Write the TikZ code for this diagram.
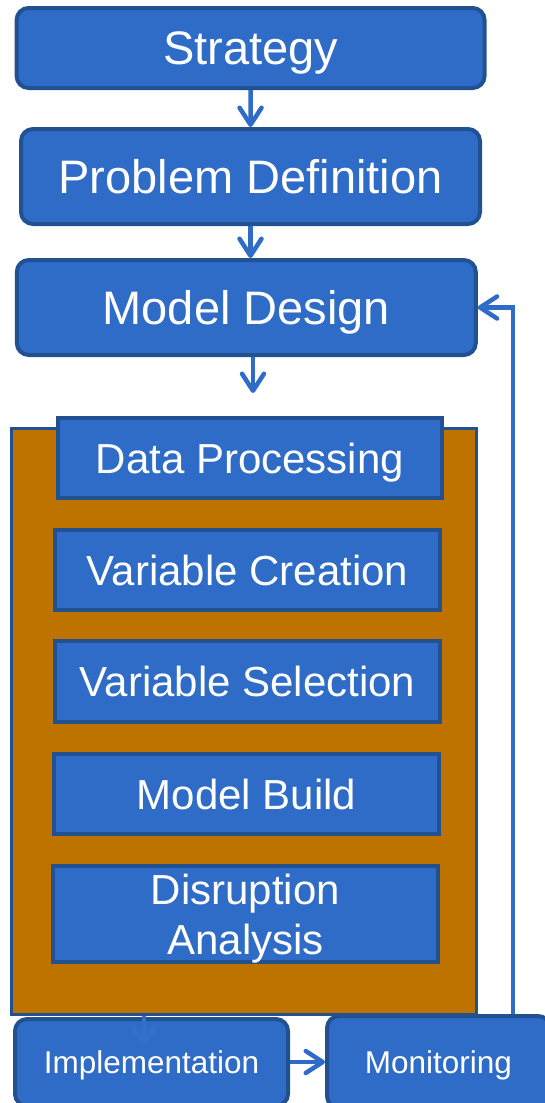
\documentclass[tikz,border=0pt]{standalone}
\usepackage{fontspec}
\setmainfont{Liberation Sans}
\usetikzlibrary{arrows.meta}
\definecolor{boxblue}{RGB}{46,108,199}
\definecolor{edgeblue}{RGB}{34,81,146}
\definecolor{ghostblue}{RGB}{51,112,203}
\definecolor{ochre}{RGB}{190,115,0}
\tikzset{
  box/.style={draw=edgeblue, fill=boxblue, line width=4pt, text=white, inner sep=0pt},
  bigbox/.style={box, rounded corners=12pt, font=\fontsize{47}{56}\selectfont, text height=33.6pt, text depth=0pt},
  stepbox/.style={box, font=\fontsize{42}{50}\selectfont, text height=30pt, text depth=0pt},
  smallbox/.style={box, rounded corners=12pt, font=\fontsize{31.5}{37}\selectfont, text height=22.5pt, text depth=0pt},
  flow/.style={draw=boxblue, line width=4.5pt, -{Straight Barb[length=17pt,width=22pt,round]}},
  ghost/.style={flow, draw=ghostblue}
}
\begin{document}
\begin{tikzpicture}[x=1pt,y=-1pt]
\path[use as bounding box] (0,0) rectangle (545,1103);
\clip (0,0) rectangle (545,1103);
\node[bigbox, minimum width=468pt, minimum height=80pt] (strat) at (250.6,48) {Strategy};
\node[bigbox, minimum width=459pt, minimum height=95pt] (probdef) at (250.5,176.5) {Problem Definition};
\node[bigbox, minimum width=459pt, minimum height=95pt] (design) at (246.3,307.5) {Model Design};
\node[draw=edgeblue, fill=ochre, line width=3pt, inner sep=0pt, minimum width=465pt, minimum height=586pt] (stack) at (243.9,721.5) {};
\node[stepbox, minimum width=384pt, minimum height=80pt] (data) at (249.8,458) {Data Processing};
\node[stepbox, minimum width=385pt, minimum height=80pt] (varcreate) at (247.5,570) {Variable Creation};
\node[stepbox, minimum width=385pt, minimum height=81pt] (varselect) at (247.5,681.5) {Variable Selection};
\node[stepbox, minimum width=385pt, minimum height=80pt] (build) at (246.5,794) {Model Build};
\node[stepbox, minimum width=385pt, minimum height=96pt, align=center, text height={}] (disrupt) at (245.5,914) {Disruption\\Analysis};
\node[smallbox, minimum width=273pt, minimum height=87pt] (impl) at (151.5,1062.5) {Implementation};
\node[smallbox, minimum width=223pt, minimum height=92pt] (monit) at (438.5,1062) {Monitoring};
\coordinate (gap) at (253,393);
\draw[flow] (strat) -- (probdef);
\draw[flow] (probdef.south) -- (probdef.south |- design.north);
\draw[flow] (design.south -| gap) -- (gap);
\draw[flow] (monit.north) ++(74.5,0) |- (design.east);
\draw[flow] (impl.east |- monit) -- (monit.west);
\draw[ghost] (stack.south) ++(-100,0) -- ++(0,30);
\end{tikzpicture}
\end{document}
